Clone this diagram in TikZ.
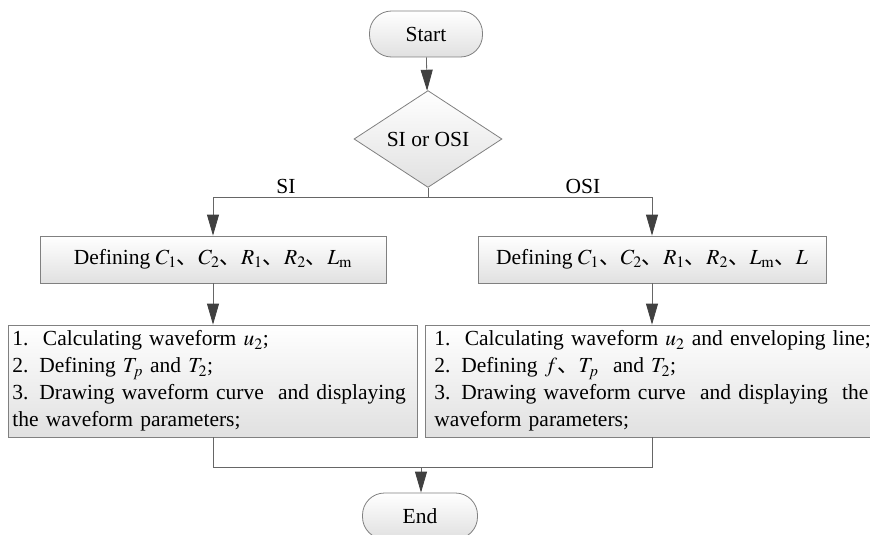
\documentclass[tikz,border=0pt]{standalone}
\usepackage{mathptmx}
\usepackage{fontspec}
\setmainfont{Liberation Serif}
\newfontfamily\cjk{Noto Sans CJK SC}
\usetikzlibrary{shapes.geometric,arrows.meta}
\newcommand{\dun}{{\cjk 、}}
\begin{document}
\begin{tikzpicture}[x=1pt,y=-1pt,>={Triangle[length=21pt,width=12pt,color=black!75]},
  every node/.style={font=\fontsize{21.5}{27}\selectfont},
  line/.style={draw=black!60,thick},
  box/.style={draw=black!50,thick,top color=white,bottom color=black!12,inner sep=0pt},
  term/.style={box,rounded corners=22pt},
  decide/.style={box,diamond,minimum width=148pt,minimum height=89pt}]
\useasboundingbox (0,0) rectangle (870,535);
\node[term,minimum width=113pt,minimum height=46pt] (start) at (426,34) {Start};
\node[decide] (dec) at (428,139) {SI or OSI};
\coordinate (siL) at (213,197);
\coordinate (osiR) at (652,197);
\node (silab) at (286,186) {SI};
\node (osilab) at (583,186) {OSI};
\node[box,minimum width=346pt,minimum height=47pt] (def1) at (213,259.5)
  {Defining $C_1$\dun$C_2$\dun$R_1$\dun$R_2$\dun$L_{\mathrm{m}}$};
\node[box,minimum width=348pt,minimum height=47pt] (def2) at (652,259.5)
  {Defining $C_1$\dun$C_2$\dun$R_1$\dun$R_2$\dun$L_{\mathrm{m}}$\dun$L$};
\node[box,minimum width=409pt,minimum height=112pt,text width=400pt,align=left] (calc1) at (212.5,381)
  {1.\ \ Calculating waveform $u_2$;\\
   2. Defining $T_p$ and $T_2$;\\
   3. Drawing waveform curve\ \ and displaying\\
   the waveform parameters;};
\node[box,anchor=west,inner xsep=9pt,minimum height=112pt,text width=450pt,align=left] (calc2) at (425,381)
  {1.\ \ Calculating waveform $u_2$ and enveloping line;\\
   2. Defining $f$\dun$T_p$\ \ and $T_2$;\\
   3. Drawing waveform curve\ \ and displaying\ \ the\\
   waveform parameters;};
\coordinate (mergeL) at (213,467);
\coordinate (mergeR) at (652,467);
\coordinate (mergeC) at (421,467);
\node[term,minimum width=115pt,minimum height=46pt] (end) at (420,516) {End};
% connectors
\draw[line,->] (start) -- (dec);
\draw[line] (dec.south) -- (dec.south |- siL);
\draw[line] (siL) -- (osiR);
\draw[line,->] (siL) -- (def1);
\draw[line,->] (osiR) -- (def2);
\draw[line,->] (def1) -- (def1 |- calc1.north);
\draw[line,->] (def2) -- (def2 |- calc2.north);
\draw[line] (def1 |- calc1.south) -- (mergeL) -- (mergeR) -- (def2 |- calc2.south);
\draw[line,->] (mergeC) -- (mergeC |- end.north);
\end{tikzpicture}
\end{document}
